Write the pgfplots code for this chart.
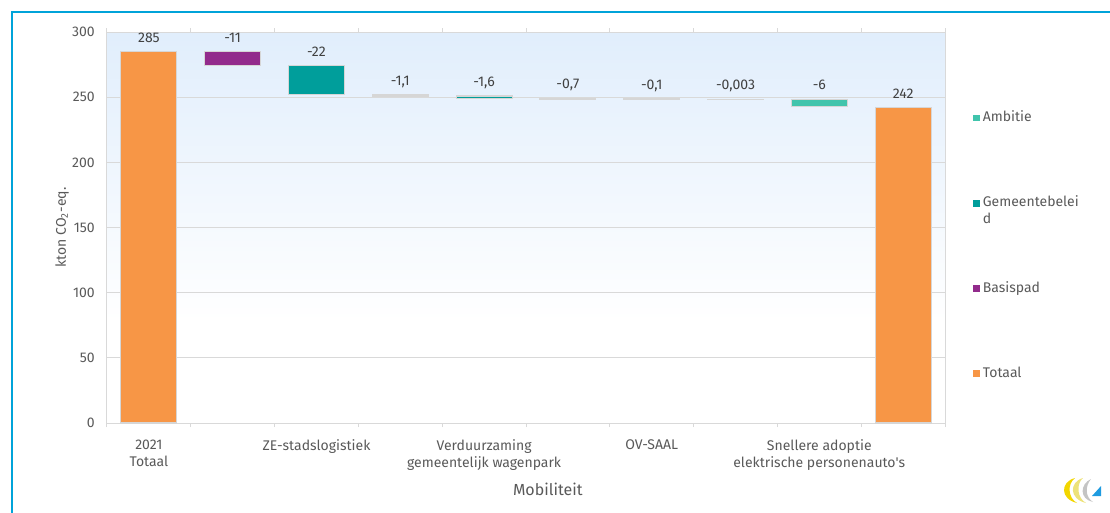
\documentclass[border=0pt]{standalone}
\usepackage{pgfplots}
\pgfplotsset{compat=1.18}
\usepackage{pgfplotstable}
\usepackage{fontspec}
\setmainfont{Fira Sans}

\definecolor{totaal}{HTML}{F79646}
\definecolor{basispad}{HTML}{922B8C}
\definecolor{gemeente}{HTML}{009E9B}
\definecolor{ambitie}{HTML}{40C4AC}
\definecolor{txt}{HTML}{595959}
\definecolor{valtxt}{HTML}{404040}
\definecolor{gridc}{HTML}{D9D9D9}
\definecolor{edge}{HTML}{D6D6D6}
\definecolor{sky}{HTML}{CCE2FA}
\definecolor{framec}{HTML}{00A3D9}
\definecolor{logoy}{HTML}{F2D600}
\definecolor{logoy2}{HTML}{EDE27A}
\definecolor{logog}{HTML}{C4C4C4}
\definecolor{logob}{HTML}{1E9BE0}

% plot background: sky blue at the top fading to white below 38 %
\pgfdeclareverticalshading{skyfade}{100bp}{color(0bp)=(white); color(38bp)=(white); color(100bp)=(sky)}

% waterfall steps: invisible base, then the visible part per category
\pgfplotstableread{
x base    totaal basispad gemeente ambitie label
0 0       285    0        0        0       285
1 274     0      11       0        0       -11
2 252     0      0        22       0       -22
3 250.9   0      1.1      0        0       -1,1
4 249.3   0      0        1.6      0       -1,6
5 248.6   0      0.7      0        0       -0,7
6 248.5   0      0        0.1      0       -0,1
7 248.497 0      0.003    0        0       -0,003
8 242.497 0      0        0        6       -6
9 0       242    0        0        0       242
}\steps

\pgfplotsset{
  sq legend/.style={legend image code/.code={\fill[##1, draw=none] (0pt,-2.6pt) rectangle (5.2pt,2.6pt);}},
  step bar/.style={fill=#1, draw=edge, line width=0.8pt, sq legend},
}

\begin{document}
\begin{tikzpicture}
\path[use as bounding box] (0,0) rectangle (832.5pt,384pt);

\begin{axis}[
  at={(80.25pt,66.75pt)}, anchor=south west,
  scale only axis, width=628.5pt, height=293.25pt,
  ybar stacked, bar width=42pt,
  xmin=-0.5, xmax=9.5, ymin=0, ymax=300,
  ytick={0,50,...,300},
  xtick={0,2,4,6,8},
  xticklabels={{2021\\Totaal}, ZE-stadslogistiek, {Verduurzaming\\gemeentelijk wagenpark}, OV-SAAL, {Snellere adoptie\\elektrische personenauto\textquotesingle s}},
  minor xtick={-0.5,0.5,...,9.5},
  major tick length=0pt, minor tick length=3pt, tick align=outside,
  ymajorgrids, grid style={gridc, line width=0.75pt},
  axis line style={gridc, line width=0.75pt},
  minor tick style={gridc, line width=0.75pt},
  axis background/.style={shading=skyfade},
  /pgf/number format/assume math mode=true,
  tick label style={font=\fontsize{10.5}{12.5}\selectfont, text=txt},
  yticklabel style={inner sep=0pt, xshift=-9pt},
  xticklabel style={align=center, inner sep=0pt, yshift=-12.5pt},
  xlabel={Mobiliteit},
  xlabel style={at={(axis description cs:0.526,0)}, anchor=center, yshift=-49.5pt, font=\fontsize{12}{14}\selectfont, text=txt},
  ylabel={kton CO\textsubscript{2}-eq.},
  ylabel style={at={(axis description cs:0,0.5)}, anchor=center, yshift=33.75pt, font=\fontsize{10.5}{12}\selectfont, text=txt},
  legend style={at={(rel axis cs:1.0334,0.8055)}, anchor=north west, draw=none, fill=none,
    font=\fontsize{10.5}{12.5}\selectfont, text=txt, row sep=49.4pt, inner sep=0pt,
    nodes={text height=8pt, text depth=2.5pt}},
  legend cell align=left, reverse legend,
]
\addplot[draw=none, fill=none, forget plot] table[x=x, y=base] {\steps};
\addplot[step bar=totaal]   table[x=x, y=totaal]   {\steps};
\addlegendentry{Totaal}
\addplot[step bar=basispad] table[x=x, y=basispad] {\steps};
\addlegendentry{Basispad}
\addplot[step bar=gemeente] table[x=x, y=gemeente] {\steps};
\addlegendentry{\smash{\begin{tabular}[t]{@{}l@{}}Gemeentebelei\\d\end{tabular}}}
\addplot[step bar=ambitie]  table[x=x, y=ambitie]  {\steps};
\addlegendentry{Ambitie}
\end{axis}

% value labels above each step
\begin{axis}[
  at={(80.25pt,66.75pt)}, anchor=south west,
  scale only axis, width=628.5pt, height=293.25pt,
  xmin=-0.5, xmax=9.5, ymin=0, ymax=300,
  hide axis, clip=false,
]
\addplot[draw=none, mark=none, nodes near coords, point meta=explicit symbolic,
  nodes near coords style={anchor=base, inner sep=0pt, yshift=7pt,
    font=\fontsize{10.5}{12.5}\selectfont, text=valtxt}]
  table[x=x, y expr=\thisrow{base}+\thisrow{totaal}+\thisrow{basispad}+\thisrow{gemeente}+\thisrow{ambitie}, meta=label] {\steps};
\end{axis}

% page frame and logo, in pixel units
\begin{scope}[x=0.75pt, y=-0.75pt, yshift=384pt]
  \draw[framec, line width=0.9pt] (12,520) -- (12,12) -- (1115,12);
  % yellow crescents
  \fill[logoy] (1075,478) .. controls (1060,482) and (1060,499) .. (1077,503)
               .. controls (1068,498) and (1067,484) .. cycle;
  \fill[logoy2] (1083,478) .. controls (1069,482) and (1069,499) .. (1086,503)
               .. controls (1077,498) and (1076,484) .. cycle;
  % grey stroke
  \fill[logog] (1091,479) .. controls (1080,484) and (1079,499) .. (1093,502)
               .. controls (1085,497) and (1085,486) .. cycle;
  \fill[logob] (1092,496) -- (1101,496) -- (1101,486) -- cycle;
\end{scope}
\end{tikzpicture}
\end{document}
